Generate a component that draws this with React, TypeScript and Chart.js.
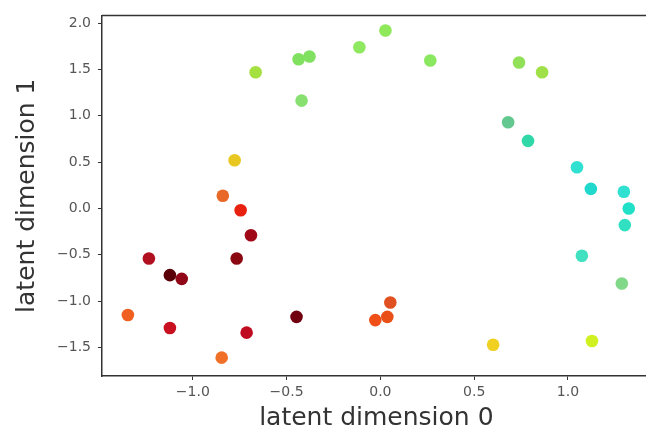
import React, { useEffect, useRef } from "react";
import { Chart, registerables } from "chart.js";

Chart.register(...registerables);

const xValues = [
  0.027, -0.112, -0.378, -0.436, -0.665, -0.42, 0.266, 0.739, 0.862, 0.681,
  0.787, 1.048, 1.122, 1.298, 1.324, 1.303, 1.074, 1.287, 1.128, 0.601,
  0.053, 0.037, -0.027, -0.777, -0.84, -0.745, -0.69, -0.766, -1.234, -1.122,
  -1.059, -1.346, -1.122, -0.713, -0.846, -0.447,
];
const yValues = [
  1.92, 1.74, 1.64, 1.61, 1.47, 1.163, 1.596, 1.575, 1.47, 0.93,
  0.729, 0.444, 0.211, 0.18, 0.0, -0.18, -0.51, -0.81, -1.43, -1.47,
  -1.015, -1.17, -1.205, 0.52, 0.137, -0.02, -0.29, -0.54, -0.54, -0.72,
  -0.76, -1.15, -1.29, -1.34, -1.61, -1.17,
];
const pointColors = [
  "#8ee85a", "#8ee860", "#80e060", "#80e060", "#a4e040", "#88e070", "#8ae860", "#90e058", "#a0e048", "#62c890",
  "#30d8a8", "#30e0d0", "#20d8cc", "#30e0d0", "#20e0c8", "#30e0c0", "#40e0c0", "#80d888", "#d0f020", "#f0d020",
  "#e05020", "#e85018", "#f05018", "#e8c820", "#e86828", "#e82010", "#a00818", "#8a0810", "#b01020", "#5a0008",
  "#900818", "#f06020", "#c81020", "#c00c20", "#f07028", "#700010",
];
const xTicks = [-1.0, -0.5, 0.0, 0.5, 1.0];
const yTicks = [-1.5, -1.0, -0.5, 0.0, 0.5, 1.0, 1.5, 2.0];
const xLabel = "latent dimension 0";
const yLabel = "latent dimension 1";

const fmt = (v: number) => (v < 0 ? "\u2212" : "") + Math.abs(v).toFixed(1);

const spinePlugin = {
  id: "spines",
  afterDraw(chart: any) {
    const { ctx, chartArea } = chart;
    ctx.save();
    ctx.strokeStyle = "#333";
    ctx.lineWidth = 1.5;
    ctx.beginPath();
    ctx.moveTo(chartArea.left, chartArea.top);
    ctx.lineTo(chart.width, chartArea.top);
    ctx.stroke();
    ctx.restore();
  },
};

export default function App() {
  const ref = useRef<HTMLCanvasElement>(null);
  useEffect(() => {
    if (!ref.current) return;
    const data = xValues.map((x, i) => ({ x, y: yValues[i] }));
    const chart = new Chart(ref.current, {
      type: "scatter",
      data: {
        datasets: [
          {
            data,
            backgroundColor: pointColors,
            borderWidth: 0,
            pointRadius: 6.3,
            pointHoverRadius: 6.3,
          },
        ],
      },
      options: {
        animation: false,
        responsive: false,
        devicePixelRatio: 1,
        layout: { padding: { top: 8, right: 4, left: 0, bottom: 0 } },
        plugins: { legend: { display: false }, tooltip: { enabled: false } },
        scales: {
          x: {
            type: "linear",
            min: -1.484,
            max: 1.441,
            afterBuildTicks: (scale: any) => {
              scale.ticks = xTicks.map((v) => ({ value: v }));
            },
            afterFit: (scale: any) => {
              scale.height = 60;
            },
            grid: { drawOnChartArea: false, drawTicks: true, tickLength: 4, tickColor: "#333" },
            border: { display: true, color: "#333", width: 1.5 },
            ticks: {
              callback: (v: any) => fmt(Number(v)),
              color: "#555",
              font: { family: "DejaVu Sans", size: 14 },
              padding: 4,
              maxRotation: 0,
            },
            title: {
              display: true,
              text: xLabel,
              color: "#333",
              font: { family: "DejaVu Sans", size: 25 },
              padding: { top: 0, bottom: 3 },
            },
          },
          y: {
            type: "linear",
            min: -1.808,
            max: 2.083,
            afterBuildTicks: (scale: any) => {
              scale.ticks = yTicks.map((v) => ({ value: v }));
            },
            afterFit: (scale: any) => {
              scale.width = 102;
            },
            grid: { drawOnChartArea: false, drawTicks: true, tickLength: 4, tickColor: "#333" },
            border: { display: true, color: "#333", width: 1.5 },
            ticks: {
              callback: (v: any) => fmt(Number(v)),
              color: "#555",
              font: { family: "DejaVu Sans", size: 14 },
              padding: 7,
            },
            title: {
              display: true,
              text: yLabel,
              color: "#333",
              font: { family: "DejaVu Sans", size: 25 },
              padding: { top: 12, bottom: 0 },
            },
          },
        },
      },
      plugins: [spinePlugin],
    });
    return () => chart.destroy();
  }, []);
  return (
    <div
      style={{
        position: "fixed",
        left: 0,
        top: 0,
        width: 646,
        height: 436,
        overflow: "hidden",
        background: "#fff",
      }}
    >
      <canvas ref={ref} width={657} height={436} style={{ width: 657, height: 436 }} />
    </div>
  );
}
